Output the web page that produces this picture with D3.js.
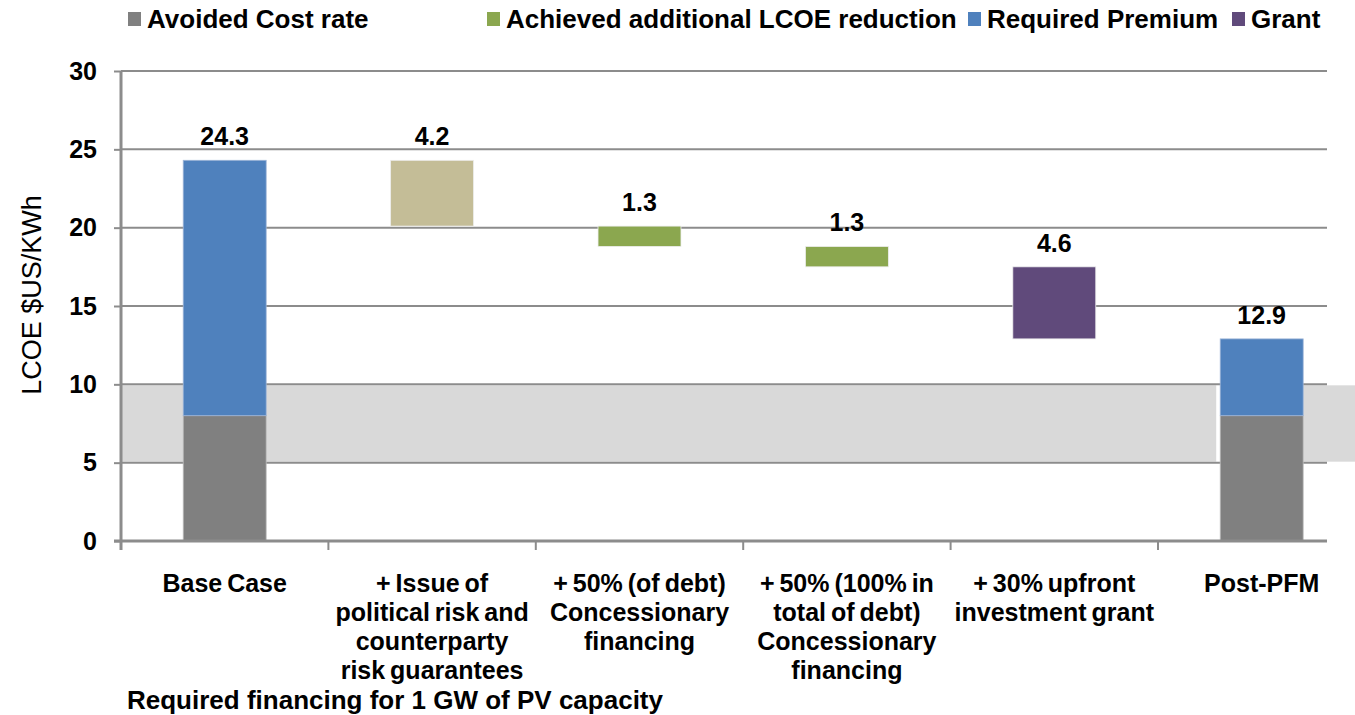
<!DOCTYPE html>
<html><head><meta charset="utf-8">
<script src="https://cdn.jsdelivr.net/npm/d3@7"></script>
<style>
html,body{margin:0;padding:0;background:#fff;}
svg{display:block;font-family:"Liberation Sans",Arial,sans-serif;}
</style></head>
<body><svg id="chart" width="1355" height="715"></svg>
<script>
// ---------- data ----------
const categories = ["Base Case", "Issue of guarantees", "50% concessional", "100% concessional", "30% grant", "Post-PFM"];
const categoryLines = [
  ["Base Case"],
  ["+ Issue of", "political risk and", "counterparty", "risk guarantees"],
  ["+ 50% (of debt)", "Concessionary", "financing"],
  ["+ 50% (100% in", "total of debt)", "Concessionary", "financing"],
  ["+ 30% upfront", "investment grant"],
  ["Post-PFM"]
];
const avoidedCost     = [8, null, null, null, null, 8];
const requiredPremium = [16.3, null, null, null, null, 4.9];
const stepReduction   = [null, 4.2, 1.3, 1.3, 4.6, null];
const stepSeries      = [null, "guarantee", "achieved", "achieved", "grant", null];
const valueLabels     = ["24.3", "4.2", "1.3", "1.3", "4.6", "12.9"];
const yTicks = [0, 5, 10, 15, 20, 25, 30];
const targetBand = [5, 10];
const legendItems = [
  {key: "avoided",  label: "Avoided Cost rate"},
  {key: "achieved", label: "Achieved additional LCOE reduction"},
  {key: "premium",  label: "Required Premium"},
  {key: "grant",    label: "Grant"}
];
const yTitle = "LCOE $US/KWh";
const footer = "Required financing for 1 GW of PV capacity";

// ---------- styles ----------
const colors = {avoided: "#808080", premium: "#4F81BD", achieved: "#8BA74F", grant: "#604A7B", guarantee: "#C4BD97"};
const W = 1355, H = 715;
const x0 = 121, axisEnd = 1327, step = 207.4;
const svg = d3.select("#chart");

const x = d3.scaleBand().domain(categories).range([x0, x0 + step * categories.length])
  .paddingInner(0.6).paddingOuter(0.3);
const y = d3.scaleLinear().domain([0, 30]).range([541, 71]);

// target band
const postX = x("Post-PFM");
svg.append("rect").attr("x", x0).attr("width", postX - 4 - x0)
  .attr("y", y(targetBand[1]) + 1).attr("height", y(targetBand[0]) - y(targetBand[1]) - 2).attr("fill", "#D9D9D9");
svg.append("rect").attr("x", postX).attr("width", W - postX)
  .attr("y", y(targetBand[1]) + 1).attr("height", y(targetBand[0]) - y(targetBand[1]) - 2).attr("fill", "#D9D9D9");

// gridlines
const grid = svg.append("g");
yTicks.filter(t => t > 0).forEach(t => {
  grid.append("line").attr("x1", x0).attr("x2", axisEnd).attr("y1", y(t)).attr("y2", y(t))
    .attr("stroke", "#8C8C8C").attr("stroke-width", 2);
});

// y axis
const yAxis = d3.axisLeft(y).tickValues(yTicks).tickSize(7).tickPadding(17).tickFormat(d3.format("d"));
const ya = svg.append("g").attr("transform", `translate(${x0},0)`).call(yAxis);
ya.select(".domain").attr("stroke", "#8C8C8C").attr("stroke-width", 3).attr("d", `M0,${y(30)}V${y(0)+9}`);
ya.selectAll(".tick line").attr("stroke", "#8C8C8C").attr("stroke-width", 2);
ya.selectAll(".tick text").attr("font-size", 25).attr("font-weight", "bold").attr("fill", "#000")
  .attr("font-family", "Liberation Sans, Arial, sans-serif");

// bars
const bars = svg.append("g");
let level = 0;
categories.forEach((c, i) => {
  const bx = x(c), bw = x.bandwidth();
  let top;
  if (avoidedCost[i] != null) {
    const a = avoidedCost[i], p = requiredPremium[i];
    bars.append("rect").attr("x", bx).attr("width", bw).attr("y", y(a)).attr("height", y(0) - y(a))
      .attr("fill", colors.avoided).attr("stroke", "#bdbdbd").attr("stroke-width", 0.8);
    bars.append("rect").attr("x", bx).attr("width", bw).attr("y", y(a + p)).attr("height", y(a) - y(a + p))
      .attr("fill", colors.premium).attr("stroke", "#9db5d8").attr("stroke-width", 0.8);
    level = a + p; top = level;
  } else {
    const t = level, b = level - stepReduction[i];
    bars.append("rect").attr("x", bx).attr("width", bw).attr("y", y(t)).attr("height", y(b) - y(t))
      .attr("fill", colors[stepSeries[i]]).attr("stroke", "#eeeeee").attr("stroke-width", 0.8);
    level = b; top = t;
  }
  svg.append("text").attr("x", bx + bw / 2).attr("y", y(top) - 15).attr("text-anchor", "middle")
    .attr("font-size", 25).attr("font-weight", "bold").text(valueLabels[i]);
});

// x axis
svg.append("line").attr("x1", x0 - 7).attr("x2", axisEnd).attr("y1", y(0)).attr("y2", y(0))
  .attr("stroke", "#8C8C8C").attr("stroke-width", 3);
categories.forEach((c, i) => {
  const tx = x0 + i * step;
  svg.append("line").attr("x1", tx).attr("x2", tx).attr("y1", y(0)).attr("y2", y(0) + 9)
    .attr("stroke", "#8C8C8C").attr("stroke-width", 2);
  const t = svg.append("text").attr("text-anchor", "middle").attr("font-size", 25).attr("font-weight", "bold")
    .attr("word-spacing", -2);
  categoryLines[i].forEach((ln, j) => {
    t.append("tspan").attr("x", x(c) + x.bandwidth() / 2).attr("y", 592 + j * 29).text(ln);
  });
});

// y title
svg.append("text").attr("transform", `translate(41,295) rotate(-90)`).attr("text-anchor", "middle")
  .attr("font-size", 27).text(yTitle);

// footer
svg.append("text").attr("x", 127).attr("y", 709).attr("font-size", 26).attr("font-weight", "bold").text(footer);

// legend
const legendX = [128, 487, 968, 1232];
legendItems.forEach((d, i) => {
  svg.append("rect").attr("x", legendX[i]).attr("y", 12).attr("width", 13).attr("height", 14).attr("fill", colors[d.key]);
  svg.append("text").attr("x", legendX[i] + 19).attr("y", 28).attr("font-size", 26).attr("font-weight", "bold").text(d.label);
});
</script></body></html>
